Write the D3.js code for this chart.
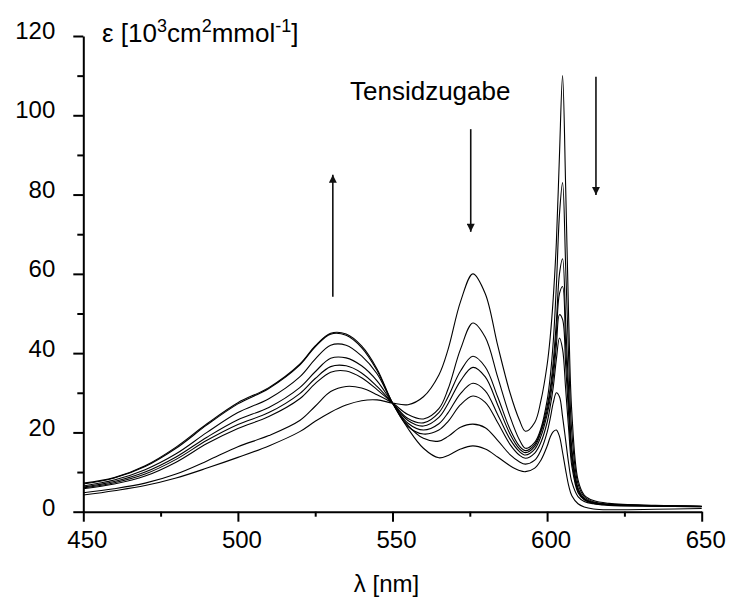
<!DOCTYPE html>
<html>
<head>
<meta charset="utf-8">
<script src="https://cdn.jsdelivr.net/npm/d3@7"></script>
<style>
  body { margin: 0; background: #fff; }
  svg { font-family: "Liberation Sans", Arial, sans-serif; }
</style>
</head>
<body>
<div id="chart"></div>
<script>
// wavelength grid (nm)
var lambda = [450,460,470,480,490,500,510,520,525,530,535,540,545,550,555,560,565,568,572,576,
              580,584,588,591,593,596,598,600,601,602,603,604,605,606,607,608,610,612,615,620,635,650];

// extinction spectra, 10^3 cm^2 mmol^-1, in order of surfactant addition
var c1 = [4.2,5.3,6.6,8.5,11.0,13.7,16.6,20.2,22.8,25.1,26.9,28.0,28.2,27.4,27.0,29.0,34.5,41,53,60,
          55,42,30,23.2,20.3,22.5,28,37,44,54,68,90,110,82,48,25,8,4.2,2.8,2.1,1.6,1.4];
var c2 = [4.8,5.8,7.2,9.5,12.8,16.4,19.2,23.0,26.6,30.3,31.6,31.2,29.5,27.4,24.5,23.4,26,31,41,47.6,
          44,34,24,18.2,16.0,17.5,21,28,34,43,57,75,83,62,38,20,7,3.8,2.5,1.9,1.5,1.3];
var c3 = [5.8,7.0,9.0,12.5,17.2,21.0,24.0,28.5,32.3,35.2,35.5,33.8,30.8,27.4,23.5,22.4,25,29,35.5,39.2,
          36.5,29,20.8,16.6,15.4,17,20.5,26.5,31,38,48,60,63.8,48,30,16,6,3.4,2.3,1.8,1.5,1.3];
var c4 = [6.0,7.3,9.5,13.2,18.0,22.0,25.0,29.8,33.6,36.6,36.8,35.0,31.6,27.4,23.0,21.6,23.8,27.3,33,36.4,
          34,27,19.6,15.9,14.9,16.5,20,25.5,30,36,45,55,56.8,42,27,14.5,5.5,3.2,2.2,1.8,1.5,1.3];
var c5 = [6.2,7.6,10.0,13.8,18.8,23.2,26.3,31.3,35.3,38.7,38.8,36.8,33.0,27.4,22.3,20.6,22.2,25,29.8,32.4,
          30.5,24.5,18.3,15.2,14.3,15.8,19,24.5,28.5,34,42,49.7,48.5,37,24,13,5.2,3.1,2.2,1.7,1.5,1.3];
var c6 = [6.5,8.0,10.6,14.6,20.0,25.0,28.5,34.0,38.5,42.0,42.0,39.3,34.8,27.4,21.5,19.6,20.6,22.8,27,29.2,
          27.6,22.5,17,14.3,13.5,14.8,17.5,22.5,26.5,31.5,38.5,43.8,41,31,20.5,11.5,4.8,3.0,2.1,1.7,1.4,1.3];
var c7 = [7.0,8.5,11.4,16.0,21.9,27.2,31.1,37.0,41.6,44.8,44.5,41.4,35.6,27.4,21.8,18.5,17.8,19,21.3,22.1,
          21.2,18,14.4,12.6,12.0,13,15.5,20,23.5,27.5,30,29,24,18,12,7.5,3.8,2.6,2.0,1.6,1.4,1.2];
var c8 = [7.2,8.6,11.6,16.3,22.2,27.5,31.3,37.2,41.8,45.0,44.8,41.8,36.0,27.4,21.0,16.0,13.6,14.2,15.8,16.6,
          15.8,13.8,11.6,10.4,10.1,11,13,16.5,18.8,20.2,20.6,19,15,10.5,6.5,4,2,1.2,0.7,0.5,0.6,0.8];
var spectra = [c1, c2, c3, c4, c5, c6, c7, c8];

// ticks
var xMajor = [450, 500, 550, 600, 650];
var xMinor = [475, 525, 575, 625];
var yMajor = [0, 20, 40, 60, 80, 100, 120];
var yMinor = [10, 30, 50, 70, 90, 110];

// arrows: wavelength, start value, tip value
var arrows = [
  {lam: 530.7, from: 54.2, to: 85.0},
  {lam: 575.3, from: 96.5, to: 70.6},
  {lam: 615.8, from: 109.7, to: 79.9}
];

var width = 729, height = 600;

var svg = d3.select("#chart").append("svg")
    .attr("width", width)
    .attr("height", height);

var x = d3.scaleLinear().domain([450, 650]).range([83.3, 701.7]);
var y = d3.scaleLinear().domain([0, 120]).range([511.7, 36]);
// tick labels sit a little above the ticks in the original
var yLab = d3.scaleLinear().domain([0, 120]).range([507, 30]);

// spectra
var line = d3.line()
    .x(function (d, i) { return x(lambda[i]); })
    .y(function (d) { return y(d); })
    .curve(d3.curveCatmullRom.alpha(0.5));

svg.append("g")
  .selectAll("path")
  .data(spectra)
  .enter().append("path")
    .attr("d", line)
    .attr("fill", "none")
    .attr("stroke", "#000")
    .attr("stroke-width", 1.1);

// x axis
var xAxis = svg.append("g")
    .attr("transform", "translate(0," + y(0) + ")")
    .call(d3.axisBottom(x).tickValues(xMajor).tickSize(10).tickSizeOuter(0).tickPadding(9));
svg.append("g")
    .attr("transform", "translate(0," + y(0) + ")")
    .call(d3.axisBottom(x).tickValues(xMinor).tickSize(5).tickFormat(""))
    .select(".domain").remove();

xAxis.selectAll("text")
    .attr("dx", 3.5)
    .style("font-size", "24px");

// y axis
var yAxis = svg.append("g")
    .attr("transform", "translate(" + x(450) + ",0)")
    .call(d3.axisLeft(y).tickValues(yMajor).tickSize(10).tickSizeOuter(0).tickPadding(7));
svg.append("g")
    .attr("transform", "translate(" + x(450) + ",0)")
    .call(d3.axisLeft(y).tickValues(yMinor).tickSize(6).tickFormat(""))
    .select(".domain").remove();

yAxis.selectAll("text")
    .attr("x", -28)
    .attr("y", function (d) { return yLab(d) - y(d); })
    .attr("dy", "0.35em")
    .style("font-size", "24px");

svg.selectAll(".domain, .tick line")
    .attr("stroke", "#000")
    .attr("stroke-width", 2);
svg.selectAll(".tick text").attr("fill", "#000").style("font-family", "Liberation Sans, Arial, sans-serif");

// axis titles
var yTitle = svg.append("text")
    .attr("x", 102)
    .attr("y", 41.5)
    .style("font-size", "26px");
yTitle.append("tspan").text("ε [10");
yTitle.append("tspan").attr("dy", -10).style("font-size", "18px").text("3");
yTitle.append("tspan").attr("dy", 10).text("cm");
yTitle.append("tspan").attr("dy", -10).style("font-size", "18px").text("2");
yTitle.append("tspan").attr("dy", 10).text("mmol");
yTitle.append("tspan").attr("dy", -10).style("font-size", "18px").text("-1");
yTitle.append("tspan").attr("dy", 10).text("]");

svg.append("text")
    .attr("x", 386.5)
    .attr("y", 592)
    .attr("text-anchor", "middle")
    .style("font-size", "24px")
    .text("λ [nm]");

// annotation
svg.append("text")
    .attr("x", 350)
    .attr("y", 100)
    .style("font-size", "26px")
    .text("Tensidzugabe");

svg.append("defs").append("marker")
    .attr("id", "head")
    .attr("viewBox", "0 0 10 10")
    .attr("refX", 10)
    .attr("refY", 5)
    .attr("markerUnits", "userSpaceOnUse")
    .attr("markerWidth", 13)
    .attr("markerHeight", 8)
    .attr("orient", "auto")
  .append("path")
    .attr("d", "M0,0L10,5L0,10Z")
    .attr("fill", "#111");

svg.append("g")
  .selectAll("line")
  .data(arrows)
  .enter().append("line")
    .attr("x1", function (d) { return x(d.lam); })
    .attr("x2", function (d) { return x(d.lam); })
    .attr("y1", function (d) { return y(d.from); })
    .attr("y2", function (d) { return y(d.to); })
    .attr("stroke", "#111")
    .attr("stroke-width", 1.6)
    .attr("marker-end", "url(#head)");
</script>
</body>
</html>
